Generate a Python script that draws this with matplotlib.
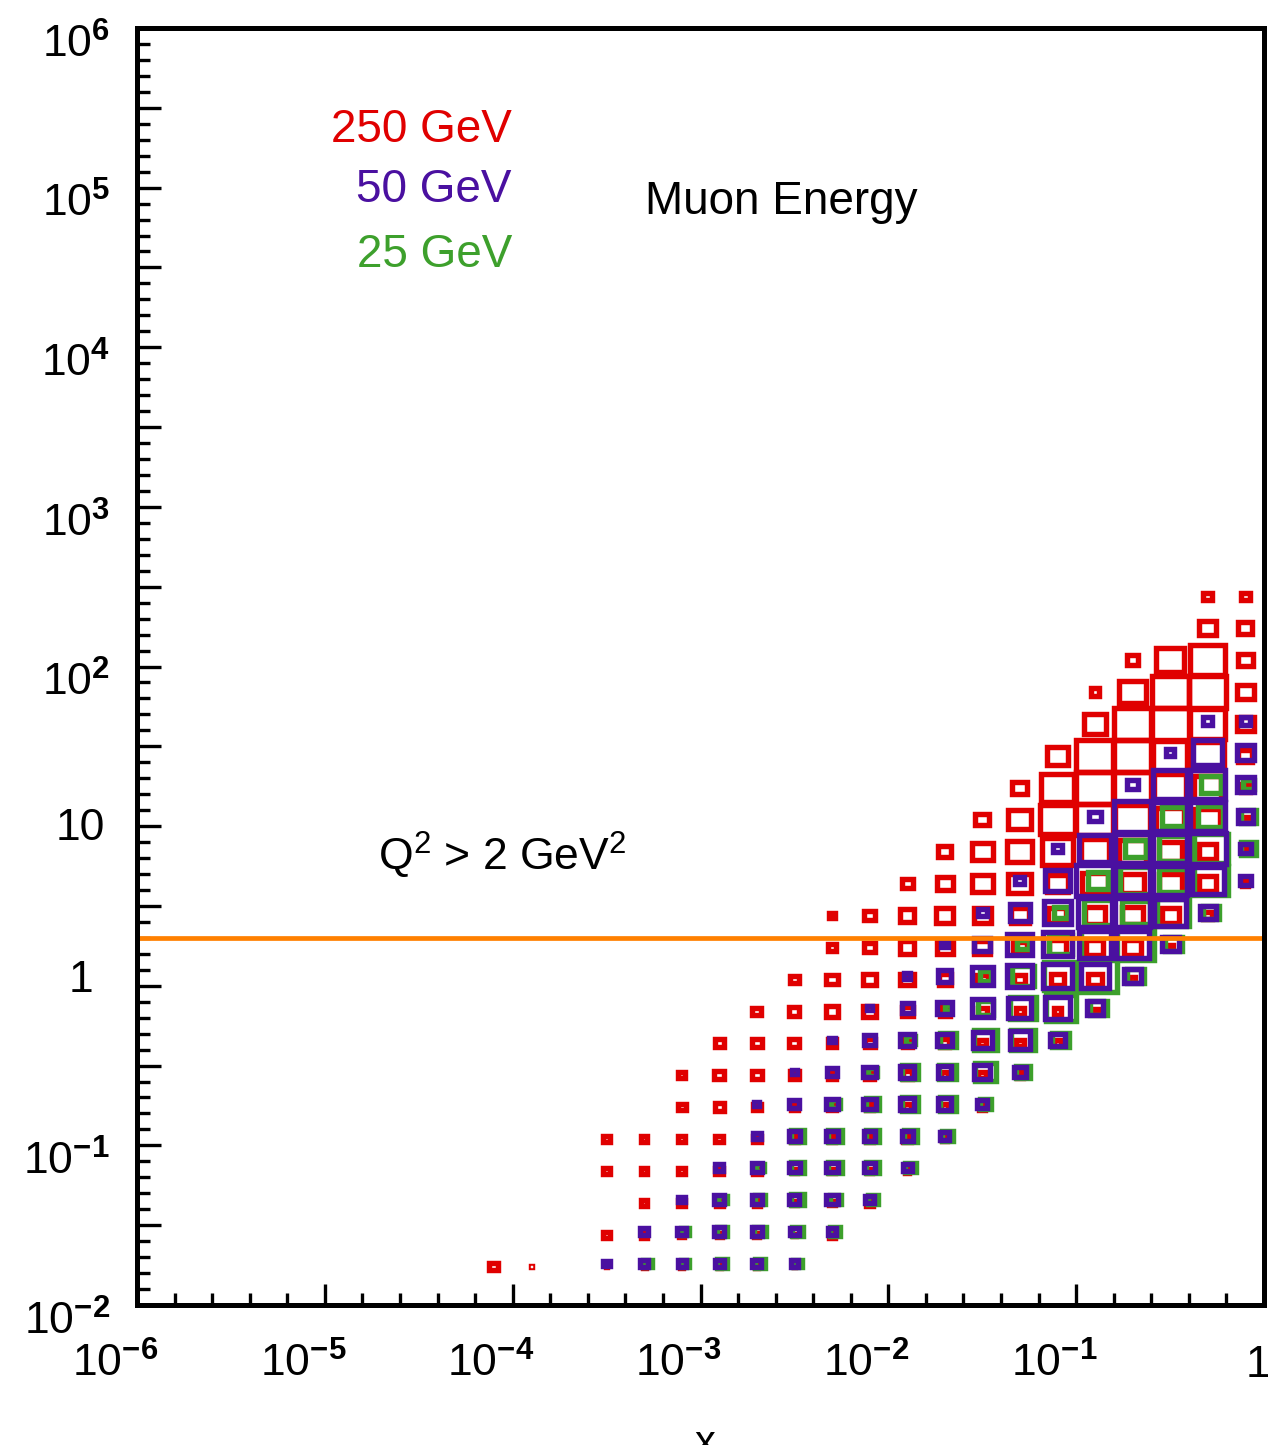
import numpy as np
import matplotlib
matplotlib.use("Agg")
import matplotlib.pyplot as plt
from matplotlib.patches import Rectangle
from matplotlib.transforms import ScaledTranslation, blended_transform_factory

plt.rcParams['font.family'] = ['Liberation Sans', 'DejaVu Sans']
plt.rcParams['mathtext.fontset'] = 'custom'
plt.rcParams['mathtext.rm'] = 'Liberation Sans'
plt.rcParams['mathtext.it'] = 'Liberation Sans:italic'
plt.rcParams['mathtext.bf'] = 'Liberation Sans:bold'

# bins: 0.2 decade in x and in Q2, log10 of first bin centre
x_bin0 = -5.9
q2_bin0 = -1.74
bin_step = 0.2
box_full = 32.0   # box size value that fills a whole bin

# box sizes, one list per Q2 row (bottom row first),
# each row starts at column *_first[row] (column 0 = first x bin)
red_first = [9, 12, 13, 12, 12, 14, 14, 15, 16, 17, 18, 18, 20, 21, 22, 23, 24, 25, 25, 26, 28, 28]
red_sizes = [
    [8, 2, 0, 2, 3, 3, 3, 3, 2],
    [6, 6, 5, 5, 5, 3, 6],
    [6, 6, 6, 6, 5, 5, 6],
    [6, 6, 6, 7, 7, 5, 5, 5, 4],
    [6, 6, 6, 7, 7, 6, 6, 6, 7, 5],
    [7, 8, 7, 7, 7, 7, 7, 6, 6],
    [6, 9, 9, 8, 8, 8, 8, 7, 7, 6],
    [8, 9, 9, 8, 9, 8, 8, 7, 7, 6],
    [8, 9, 11, 11, 10, 9, 8, 7, 7, 6],
    [8, 10, 12, 12, 11, 10, 10, 12, 12, 5],
    [8, 10, 13, 14, 14, 12, 15, 15, 15, 6],
    [6, 10, 13, 15, 15, 16, 16, 18, 18, 15, 8],
    [10, 14, 18, 20, 18, 22, 20, 20, 15, 6],
    [12, 18, 22, 27, 25, 24, 20, 15, 6],
    [12, 20, 30, 32, 30, 25, 22, 6],
    [13, 28, 32, 32, 28, 24, 8],
    [18, 32, 32, 30, 28, 12],
    [20, 32, 32, 30, 15],
    [8, 23, 32, 32, 15],
    [10, 25, 30, 13],
    [15, 12],
    [8, 8],
]

purple_first = [12, 13, 14, 15, 16, 16, 17, 18, 19, 20, 21, 22, 23, 24, 25, 26, 27, 28]
purple_sizes = [
    [6, 7, 7, 8, 8, 7],
    [7, 8, 9, 9, 8, 7],
    [6, 9, 9, 9, 10, 8],
    [7, 9, 10, 10, 10, 8],
    [7, 10, 10, 10, 10, 8],
    [5, 9, 10, 11, 12, 12, 9],
    [5, 9, 11, 12, 12, 14, 11],
    [5, 10, 12, 13, 17, 18, 13],
    [5, 10, 13, 18, 20, 22, 14],
    [6, 12, 18, 22, 25, 25, 15],
    [6, 14, 22, 25, 28, 28, 15],
    [8, 18, 24, 30, 30, 28, 14],
    [8, 22, 32, 30, 30, 28, 10],
    [8, 28, 30, 30, 32, 10],
    [10, 32, 30, 30, 13],
    [10, 30, 30, 15],
    [8, 25, 15],
    [8, 8],
]

green_first = [13, 14, 15, 16, 17, 18, 19, 20, 21, 22, 23, 24, 25, 26, 27, 28]
green_sizes = [
    [8, 8, 9, 9, 8],
    [8, 9, 10, 10, 9],
    [8, 9, 12, 10, 9],
    [7, 12, 12, 12, 10],
    [12, 12, 12, 12, 10],
    [8, 12, 14, 14, 10],
    [8, 14, 15, 18, 13],
    [8, 14, 20, 21, 15],
    [6, 14, 22, 26, 15],
    [10, 20, 28, 32, 15],
    [10, 20, 30, 32, 15],
    [12, 25, 24, 28, 14],
    [18, 28, 24, 30],
    [18, 25, 30, 13],
    [20, 22, 13],
    [18, 10],
]

energy_labels = ['250 GeV', '50 GeV', '25 GeV']
energy_colors = ['#e00000', '#4a10a0', '#3da02c']
q2_cut = 2.0

y_ticks = [1e-2, 1e-1, 1, 10, 1e2, 1e3, 1e4, 1e5, 1e6]
y_tick_labels = [r'$10^{\mathbf{-2}}$', r'$10^{\mathbf{-1}}$', '1', '10',
                 r'$10^{\mathbf{2}}$', r'$10^{\mathbf{3}}$', r'$10^{\mathbf{4}}$',
                 r'$10^{\mathbf{5}}$', r'$10^{\mathbf{6}}$']
x_ticks = [1e-6, 1e-5, 1e-4, 1e-3, 1e-2, 1e-1, 1]
x_tick_labels = [r'$10^{\mathbf{-6}}$', r'$10^{\mathbf{-5}}$', r'$10^{\mathbf{-4}}$',
                 r'$10^{\mathbf{-3}}$', r'$10^{\mathbf{-2}}$', r'$10^{\mathbf{-1}}$', '1']

W, H = 1268, 1445
fig = plt.figure(figsize=(W / 100, H / 100), dpi=100)
ax = fig.add_axes([137 / W, (H - 1305) / H, (1264 - 137) / W, (1305 - 28) / H])
ax.set_xscale('log')
ax.set_yscale('log')
ax.set_xlim(1e-6, 1)
ax.set_ylim(1e-2, 1e6)


def draw_boxes(first, sizes, color, dx=0.0, dy=0.0):
    for row, (c0, vals) in enumerate(zip(first, sizes)):
        yc = q2_bin0 + bin_step * row + dy
        for k, v in enumerate(vals):
            if v <= 0:
                continue
            xc = x_bin0 + bin_step * (c0 + k) + dx
            half = 0.5 * bin_step * max(v - 0.5, 0.8) / box_full
            ax.add_patch(Rectangle((10 ** (xc - half), 10 ** (yc - half)),
                                   10 ** (xc + half) - 10 ** (xc - half),
                                   10 ** (yc + half) - 10 ** (yc - half),
                                   fill=False, edgecolor=color, linewidth=3.9,
                                   joinstyle='miter', zorder=3))


# red sits a little low, green a little to the right (as in the original)
draw_boxes(red_first, red_sizes, energy_colors[0], dy=-0.02)
draw_boxes(green_first, green_sizes, energy_colors[2], dx=0.017)
draw_boxes(purple_first, purple_sizes, energy_colors[1])

ax.axhline(q2_cut, color='#ff8000', linewidth=3.4, zorder=4)

for s in ax.spines.values():
    s.set_linewidth(3.6)
    s.set_zorder(6)

# ticks: x every 0.2 decade, y every 0.1 decade with a longer one at half decade
ax.xaxis.set_major_locator(matplotlib.ticker.FixedLocator(x_ticks))
ax.xaxis.set_minor_locator(matplotlib.ticker.FixedLocator(
    [10 ** (-6 + 0.2 * k) for k in range(31) if k % 5]))
ax.yaxis.set_major_locator(matplotlib.ticker.FixedLocator(
    [10 ** (-2 + 0.5 * k) for k in range(17)]))
ax.yaxis.set_minor_locator(matplotlib.ticker.FixedLocator(
    [10 ** (-2 + 0.1 * k) for k in range(81) if k % 5]))
ax.xaxis.set_major_formatter(matplotlib.ticker.NullFormatter())
ax.xaxis.set_minor_formatter(matplotlib.ticker.NullFormatter())
ax.yaxis.set_major_formatter(matplotlib.ticker.NullFormatter())
ax.yaxis.set_minor_formatter(matplotlib.ticker.NullFormatter())
ax.tick_params(which='both', direction='in', top=False, right=False, width=2.4, color='black')
ax.tick_params(axis='x', which='major', length=15)
ax.tick_params(axis='x', which='minor', length=9)
ax.tick_params(axis='y', which='major', length=17)
ax.tick_params(axis='y', which='minor', length=9)

# tick labels drawn as texts at the tick values
ytr = blended_transform_factory(ax.transAxes, ax.transData)
for v, lab in zip(y_ticks, y_tick_labels):
    if lab.startswith('$'):
        off = ScaledTranslation(-0.27, -0.17, fig.dpi_scale_trans)
    elif lab == '10':
        off = ScaledTranslation(-0.32, -0.02, fig.dpi_scale_trans)
    else:
        off = ScaledTranslation(-0.44, 0.05, fig.dpi_scale_trans)
    ax.text(0, v, lab, transform=ytr + off, ha='right', va='center',
            fontsize=32, clip_on=False)

xtr = blended_transform_factory(ax.transData, ax.transAxes)
for v, lab in zip(x_ticks, x_tick_labels):
    dx = -0.22 if lab.startswith('$') else -0.06
    off = ScaledTranslation(dx, -0.72, fig.dpi_scale_trans)
    ax.text(v, 0, lab, transform=xtr + off, ha='center', va='baseline',
            fontsize=32, clip_on=False)

fig.text(705 / W, 1 - 1424 / H, 'x', ha='center', va='top', fontsize=30)

for lab, col, yp in zip(energy_labels, energy_colors, [130, 190, 255]):
    fig.text(512 / W, 1 - yp / H, lab, color=col, ha='right', va='center', fontsize=33)
fig.text(645 / W, 1 - 202 / H, 'Muon Energy', ha='left', va='center', fontsize=33)
fig.text(378 / W, 1 - 855 / H, r'Q$^2$ > 2 GeV$^2$', ha='left', va='center', fontsize=32)

fig.savefig('out.png', dpi=100, facecolor='white')
